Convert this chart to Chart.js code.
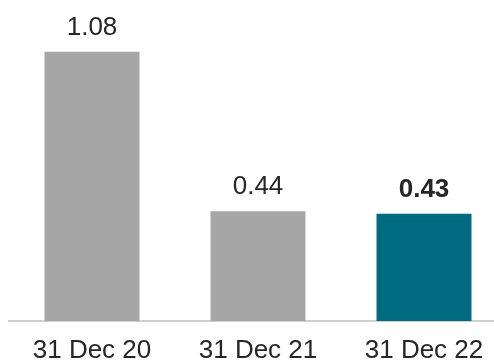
<!DOCTYPE html>
<html>
<head>
<meta charset="utf-8">
<script src="https://cdn.jsdelivr.net/npm/chart.js@4"></script>
<style>
  html, body { margin: 0; padding: 0; background: #fff; overflow: hidden; }
  #wrap { width: 507px; height: 390px; }
</style>
</head>
<body>
<div id="wrap"><canvas id="chart" width="507" height="390"></canvas></div>
<script>
// data
const categories = ["31 Dec 20", "31 Dec 21", "31 Dec 22"];
const values = [1.08, 0.44, 0.43];
const barColors = ["#a6a6a6", "#a6a6a6", "#006a80"];
const boldLabel = [false, false, true];

// value labels above bars
const valueLabels = {
    id: "valueLabels",
    afterDatasetsDraw(chart) {
        const ctx = chart.ctx;
        const meta = chart.getDatasetMeta(0);
        ctx.save();
        ctx.fillStyle = "#262626";
        ctx.textAlign = "center";
        ctx.textBaseline = "alphabetic";
        meta.data.forEach((bar, i) => {
            ctx.font = (boldLabel[i] ? "bold " : "") + "26px 'Liberation Sans', Arial, sans-serif";
            ctx.fillText(values[i].toFixed(2), bar.x, bar.y - 17);
        });
        ctx.restore();
    }
};

new Chart(document.getElementById("chart"), {
    type: "bar",
    data: {
        labels: categories,
        datasets: [{
            data: values,
            backgroundColor: barColors,
            borderWidth: 0,
            categoryPercentage: 1,
            barPercentage: 0.572
        }]
    },
    options: {
        responsive: false,
        animation: false,
        layout: { padding: { left: 9, right: 0, top: 0, bottom: 9 } },
        plugins: {
            legend: { display: false },
            tooltip: { enabled: false }
        },
        scales: {
            x: {
                grid: { display: false, drawTicks: false },
                border: { display: true, color: "#d0d0d0", width: 2 },
                ticks: {
                    color: "#262626",
                    padding: 17,
                    maxRotation: 0,
                    font: { family: "'Liberation Sans', Arial, sans-serif", size: 26, lineHeight: 1 }
                }
            },
            y: {
                display: false,
                min: 0,
                max: 1.288
            }
        }
    },
    plugins: [valueLabels]
});
</script>
</body>
</html>
